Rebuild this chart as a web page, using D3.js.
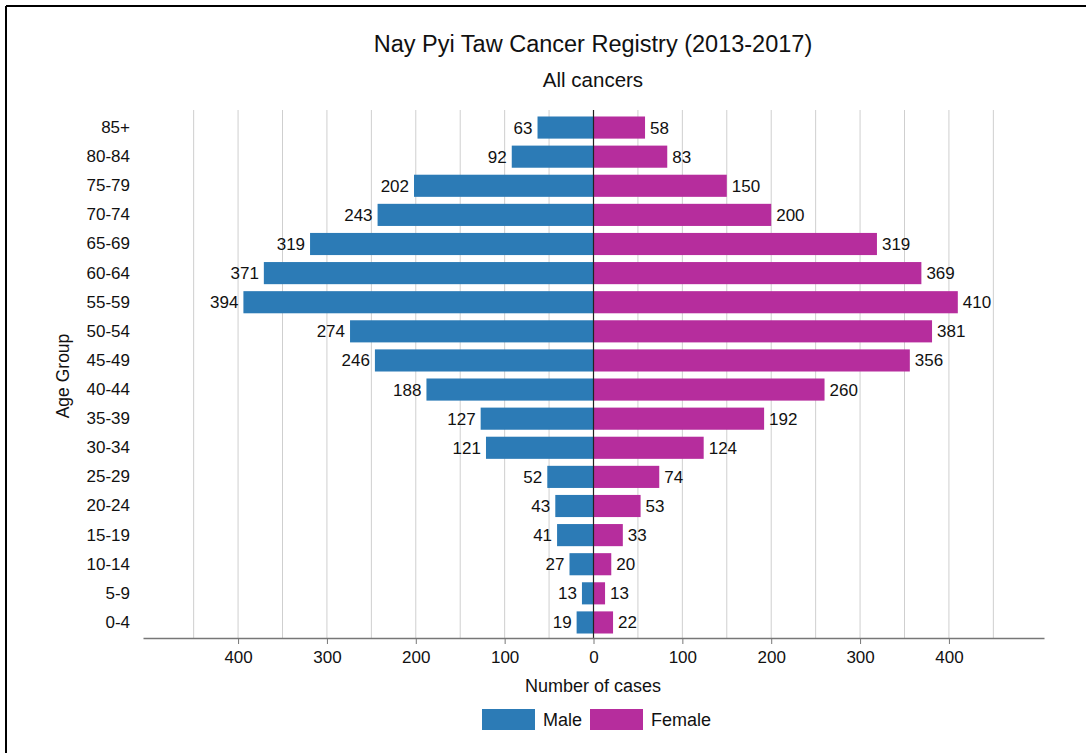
<!DOCTYPE html>
<html>
<head>
<meta charset="utf-8">
<script src="https://cdn.jsdelivr.net/npm/d3@7"></script>
<style>
  body { margin: 0; background: #fff; }
  text { font-family: "Liberation Sans", Arial, sans-serif; fill: #111; }
</style>
</head>
<body>
<div id="chart"></div>
<script>
// age groups, top to bottom as drawn
var ageGroups = ['85+', '80-84', '75-79', '70-74', '65-69', '60-64', '55-59', '50-54', '45-49',
  '40-44', '35-39', '30-34', '25-29', '20-24', '15-19', '10-14', '5-9', '0-4'];
var male = [63, 92, 202, 243, 319, 371, 394, 274, 246, 188, 127, 121, 52, 43, 41, 27, 13, 19];
var female = [58, 83, 150, 200, 319, 369, 410, 381, 356, 260, 192, 124, 74, 53, 33, 20, 13, 22];
var tickValues = [-400, -300, -200, -100, 0, 100, 200, 300, 400];
var gridValues = [-450, -400, -350, -300, -250, -200, -150, -100, -50, 50, 100, 150, 200, 250, 300, 350, 400, 450];
var seriesNames = ['Male', 'Female'];
var seriesColors = ['#2c7bb6', '#b62d9d'];

(function() {
  var width = 1086, height = 753;
  var font = '"Liberation Sans", Arial, sans-serif';
  var svg = d3.select('#chart').append('svg').attr('width', width).attr('height', height);

  // frame (top and left edges only, as in the cropped original)
  svg.append('line').attr('x1', 6).attr('x2', width).attr('y1', 6).attr('y2', 6)
    .attr('stroke', '#000').attr('stroke-width', 2);
  svg.append('line').attr('x1', 6).attr('x2', 6).attr('y1', 6).attr('y2', height)
    .attr('stroke', '#000').attr('stroke-width', 2);

  var x = d3.scaleLinear().domain([-507, 507]).range([143, 1044]);
  var y = d3.scaleBand().domain(ageGroups).range([113, 637]).paddingInner(0.24).paddingOuter(0.12);

  // grid
  svg.append('g').selectAll('line').data(gridValues).enter().append('line')
    .attr('x1', function(d) { return x(d); }).attr('x2', function(d) { return x(d); })
    .attr('y1', 110).attr('y2', 638)
    .attr('stroke', '#cfcfcf').attr('stroke-width', 1);

  var rows = ageGroups.map(function(a, i) { return {age: a, m: male[i], f: female[i]}; });

  var bars = svg.append('g');
  bars.selectAll('rect.m').data(rows).enter().append('rect')
    .attr('class', 'm')
    .attr('x', function(d) { return x(-d.m); })
    .attr('width', function(d) { return x(0) - x(-d.m); })
    .attr('y', function(d) { return y(d.age); })
    .attr('height', y.bandwidth())
    .attr('fill', seriesColors[0]);
  bars.selectAll('rect.f').data(rows).enter().append('rect')
    .attr('class', 'f')
    .attr('x', x(0))
    .attr('width', function(d) { return x(d.f) - x(0); })
    .attr('y', function(d) { return y(d.age); })
    .attr('height', y.bandwidth())
    .attr('fill', seriesColors[1]);

  // value labels
  var labels = svg.append('g').style('font-size', '17px');
  labels.selectAll('text.m').data(rows).enter().append('text')
    .attr('x', function(d) { return x(-d.m) - 5; })
    .attr('y', function(d) { return y(d.age) + y.bandwidth() / 2; })
    .attr('dy', '0.35em').attr('text-anchor', 'end')
    .text(function(d) { return d.m; });
  labels.selectAll('text.f').data(rows).enter().append('text')
    .attr('x', function(d) { return x(d.f) + 5; })
    .attr('y', function(d) { return y(d.age) + y.bandwidth() / 2; })
    .attr('dy', '0.35em').attr('text-anchor', 'start')
    .text(function(d) { return d.f; });

  // zero line
  svg.append('line').attr('x1', x(0)).attr('x2', x(0)).attr('y1', 110).attr('y2', 638)
    .attr('stroke', '#222').attr('stroke-width', 1.2);

  // x axis
  var xAxis = d3.axisBottom(x).tickValues(tickValues).tickSize(6).tickSizeOuter(0)
    .tickFormat(function(d) { return Math.abs(d); });
  var gx = svg.append('g').attr('transform', 'translate(0,638)').call(xAxis);
  gx.select('.domain').attr('stroke', '#777').attr('stroke-width', 1.5);
  gx.selectAll('.tick line').attr('stroke', '#777');
  gx.selectAll('.tick text').attr('y', 19).attr('dy', '0.35em').style('font-size', '17px')
    .style('font-family', font).attr('fill', '#111');

  // y axis labels
  var yAxis = d3.axisLeft(y).tickSize(0).tickPadding(0);
  var gy = svg.append('g').attr('transform', 'translate(130,0)').call(yAxis);
  gy.select('.domain').remove();
  gy.selectAll('.tick text').style('font-size', '17px')
    .style('font-family', font).attr('fill', '#111');

  // titles
  svg.append('text').attr('x', 593).attr('y', 52).attr('text-anchor', 'middle')
    .style('font-size', '23.5px').text('Nay Pyi Taw Cancer Registry (2013-2017)');
  svg.append('text').attr('x', 593).attr('y', 87).attr('text-anchor', 'middle')
    .style('font-size', '20.5px').text('All cancers');
  svg.append('text').attr('x', 593).attr('y', 692).attr('text-anchor', 'middle')
    .style('font-size', '18px').text('Number of cases');
  svg.append('text').attr('transform', 'translate(69,376) rotate(-90)').attr('text-anchor', 'middle')
    .style('font-size', '17.5px').text('Age Group');

  // legend
  var legend = svg.append('g');
  var legendX = [482, 590];
  seriesNames.forEach(function(name, i) {
    legend.append('rect').attr('x', legendX[i]).attr('y', 709).attr('width', 53).attr('height', 21)
      .attr('fill', seriesColors[i]);
    legend.append('text').attr('x', legendX[i] + 61).attr('y', 720).attr('dy', '0.35em')
      .style('font-size', '18px').text(name);
  });
})();
</script>
</body>
</html>
